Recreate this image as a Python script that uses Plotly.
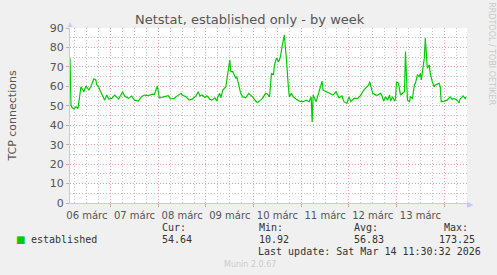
import pandas as pd
import plotly.graph_objects as go

# ---------------- data ----------------
start_time = "2026-03-06 03:30"
end_time = "2026-03-14 11:30"

hours = [0, 0.5, 1, 2, 3, 4, 4.5, 5.5, 7, 8, 9.5, 10.5, 12, 13, 13.5, 14.5, 15, 16.5, 17.5, 18.5,
         19.5, 21, 22.5, 24.5, 26.5, 27.5, 29.5, 31, 32.5, 34.5, 36, 37.5, 39.5, 41.5, 42.5, 44, 45, 47.5,
         49.5, 50.5, 52.5, 54, 56, 56.5, 58.5, 60, 61.5, 63.5, 64.5, 65.5, 66.5, 68, 69, 70.5, 71.5, 73,
         74, 74.5, 75.5, 76, 77, 78.5, 79, 80, 80.5, 81, 82, 83.5, 84, 85, 86, 87, 88.5, 90, 91, 92, 93.5,
         94.5, 96, 97, 98.5, 99.5, 100.5, 101.5, 102.5, 103, 104, 105, 105.5, 106, 107, 108, 108.5, 109,
         110, 110.5, 111.5, 112.5, 114, 115.5, 117.5, 119, 120.5, 121.5, 122, 122.5, 124, 125.5, 126.5,
         127, 127.5, 129, 130.5, 132.5, 134, 135.5, 137, 138, 139.5, 140.5, 141.5, 143, 145, 146.5, 148,
         150.5, 151, 152.5, 154, 155, 156.5, 157, 158, 159, 160, 161, 161.5, 162.5, 163.5, 164, 164.5,
         165.5, 166.5, 167.5, 168.5, 169, 169.5, 170, 171, 171.5, 172.5, 173.5, 174, 175, 176, 176.5,
         177, 177.5, 178.5, 179, 179.5, 180, 181, 181.5, 182.5, 183.5, 184, 185, 186, 186.5, 187, 188.5,
         190, 191.5, 192.5, 193.5, 195, 196, 196.5, 198, 199, 199.5]

values = [74.5, 50.4, 49.2, 48.4, 49.5, 48.6, 52.1, 59.8, 57.2, 60.2, 58.1, 59.8, 63.8, 63.3, 60.7,
          59.8, 58.1, 54.7, 52.9, 55.5, 53.5, 53.8, 55.5, 53.5, 57.2, 55.0, 53.8, 55.0, 52.9, 52.4, 54.7,
          55.5, 55.2, 56.0, 55.8, 60.2, 54.0, 54.7, 55.2, 53.5, 53.8, 55.1, 56.4, 55.5, 54.6, 52.9, 53.4,
          55.1, 57.2, 55.0, 55.5, 54.3, 55.1, 53.4, 52.9, 54.1, 52.4, 54.6, 56.4, 54.1, 58.1, 59.8, 63.3,
          71.0, 73.6, 67.6, 67.6, 64.1, 65.0, 60.7, 56.4, 54.6, 54.1, 56.4, 55.5, 54.6, 52.4, 51.7, 52.9,
          53.8, 56.4, 55.9, 54.6, 66.7, 65.8, 71.0, 74.5, 72.7, 73.6, 75.3, 81.4, 86.5, 79.6, 74.5, 59.8,
          54.6, 56.4, 54.6, 53.4, 52.4, 52.1, 52.9, 52.1, 54.6, 41.7, 55.5, 52.1, 57.2, 61.5, 62.7, 58.1,
          57.2, 56.4, 55.5, 57.2, 54.1, 55.1, 52.1, 51.2, 54.6, 52.1, 53.8, 53.8, 55.5, 58.1, 60.7, 62.4,
          56.4, 55.5, 55.5, 56.4, 55.5, 52.4, 54.6, 52.9, 55.5, 52.4, 54.6, 52.4, 53.4, 62.4, 61.5, 55.5,
          56.4, 57.2, 77.9, 59.8, 52.9, 52.1, 54.6, 53.8, 60.7, 61.5, 65.8, 65.0, 66.7, 63.3, 67.6, 74.5,
          84.8, 72.7, 69.3, 71.0, 66.7, 62.4, 59.8, 60.7, 61.0, 61.5, 59.8, 52.1, 52.4, 52.9, 54.6, 53.4,
          53.8, 52.9, 51.5, 53.4, 55.1, 53.8, 54.6]

series_name = "established"
stat_labels = ["Cur:", "Min:", "Avg:", "Max:"]
stat_values = ["54.64", "10.92", "56.83", "173.25"]
last_update = "Last update: Sat Mar 14 11:30:32 2026"

t0 = pd.Timestamp(start_time)
times = [t0 + pd.Timedelta(hours=h) for h in hours]

# ---------------- layout geometry ----------------
W, H = 497, 275
L, R, T, B = 67, 30, 28, 72
PW, PH = W - L - R, H - T - B


def px(x):
    return (x - L) / PW


def py(y):
    return (H - B - y) / PH


MAJ = "#E3A0A0"
MIN = "#C4C4C4"
AXIS = "#C8C8F5"
MONO = "DejaVu Sans Mono"
SANS = "DejaVu Sans"
DOT = "1px,2px"

fig = go.Figure()
fig.add_trace(go.Scatter(x=times, y=values, mode="lines", name=series_name,
                         line=dict(color="#00CC00", width=1.2), hoverinfo="skip"))

fig.update_layout(
    width=W, height=H,
    margin=dict(l=L, r=R, t=T, b=B),
    paper_bgcolor="#F0F0F0", plot_bgcolor="#FFFFFF",
    showlegend=False,
    title=dict(text="Netstat, established only - by week", x=px(248), xanchor="center",
               xref="paper", y=1 - 19.5 / H, yanchor="middle",
               font=dict(family=SANS, size=13, color="#555555")),
)

fig.update_xaxes(
    type="date", range=[t0, pd.Timestamp(end_time)],
    tick0="2026-03-06", dtick=86400000, ticklabelmode="period", tickformat="%d márc",
    showgrid=True, gridcolor=MAJ, griddash=DOT, gridwidth=1,
    ticks="outside", ticklen=3, tickcolor=MAJ,
    minor=dict(dtick=6 * 3600000, showgrid=True, gridcolor=MIN, griddash=DOT, gridwidth=1, ticks=""),
    showline=True, linecolor=AXIS, linewidth=1,
    tickfont=dict(family=SANS, size=10, color="#555555"),
    zeroline=False, fixedrange=True,
)
fig.update_yaxes(
    range=[0, 90], dtick=10, tick0=0,
    showgrid=True, gridcolor=MAJ, griddash=DOT, gridwidth=1,
    ticks="outside", ticklen=3, tickcolor=MAJ,
    minor=dict(dtick=5, showgrid=True, gridcolor=MIN, griddash=DOT, gridwidth=1, ticks=""),
    showline=True, linecolor=AXIS, linewidth=1,
    tickfont=dict(family=SANS, size=11, color="#555555"),
    title=dict(text="TCP connections", font=dict(family=SANS, size=11, color="#555555"), standoff=30),
    zeroline=False, fixedrange=True,
)

ann = []
# axis arrow heads
ann.append(dict(x=px(471), y=py(203), xref="paper", yref="paper", text="▶", showarrow=False,
                font=dict(size=8, color=AXIS), xanchor="center", yanchor="middle"))
ann.append(dict(x=px(67), y=py(24), xref="paper", yref="paper", text="▲", showarrow=False,
                font=dict(size=8, color=AXIS), xanchor="center", yanchor="middle"))
# watermark right side
ann.append(dict(x=px(492), y=py(54), xref="paper", yref="paper", text="RRDTOOL / TOBI OETIKER",
                showarrow=False, textangle=90, font=dict(family=SANS, size=8, color="#C8C8C8"),
                xanchor="center", yanchor="middle"))
# legend square + name
ann.append(dict(x=px(17), y=py(239.5), xref="paper", yref="paper", text="■", showarrow=False,
                font=dict(family=SANS, size=10, color="#00CC00"), xanchor="center", yanchor="middle"))
ann.append(dict(x=px(26), y=py(239.5), xref="paper", yref="paper", text=series_name, showarrow=False,
                font=dict(family=MONO, size=10, color="#333333"), xanchor="left", yanchor="middle"))
# stats
stat_x = [158, 255, 351, 477]
for i, (lab, val) in enumerate(zip(stat_labels, stat_values)):
    anchor = "right" if i == 3 else "left"
    lx = 470 if i == 3 else stat_x[i]
    ann.append(dict(x=px(lx), y=py(227.5), xref="paper", yref="paper", text=lab, showarrow=False,
                    font=dict(family=MONO, size=10, color="#333333"), xanchor=anchor, yanchor="middle"))
    ann.append(dict(x=px(stat_x[i]), y=py(239.5), xref="paper", yref="paper", text=val, showarrow=False,
                    font=dict(family=MONO, size=10, color="#333333"), xanchor=anchor, yanchor="middle"))
ann.append(dict(x=px(483), y=py(251.5), xref="paper", yref="paper", text=last_update, showarrow=False,
                font=dict(family=MONO, size=10, color="#333333"), xanchor="right", yanchor="middle"))
ann.append(dict(x=px(248), y=py(264.5), xref="paper", yref="paper", text="Munin 2.0.67", showarrow=False,
                font=dict(family=SANS, size=8, color="#CCCCCC"), xanchor="center", yanchor="middle"))
fig.update_layout(annotations=ann)

fig.write_html("out.html")
